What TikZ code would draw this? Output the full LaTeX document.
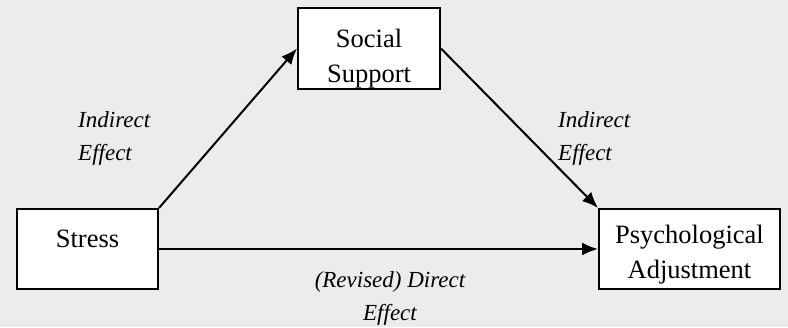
\documentclass[tikz,border=0pt]{standalone}
\usepackage{fontspec}
\setmainfont{Liberation Serif}
\usetikzlibrary{arrows.meta}
\definecolor{bgc}{RGB}{236,236,236}
\tikzset{
  box/.style={draw=black, line width=2pt, fill=white, inner sep=0pt},
  txt/.style={font=\fontsize{26.5}{35}\selectfont, inner sep=0pt},
  lbl/.style={font=\fontsize{23}{33}\selectfont\itshape, inner sep=0pt},
  arr/.style={line width=2pt, -{Latex[length=16pt,width=13pt]}}
}
\begin{document}
\begin{tikzpicture}[x=1pt,y=-1pt]
\fill[bgc] (0,0) rectangle (788,327);
\useasboundingbox (0,0) rectangle (788,327);
\node[box, minimum width=141pt, minimum height=80pt] (stress) at (87.5,249) {};
\node[txt, anchor=base] (stresst) at (87.5,247) {Stress};
\node[box, minimum width=142pt, minimum height=81pt] (support) at (369,48.5) {};
\node[txt, align=center, anchor=base] (supportt) at (369,82) {Social\\Support};
\node[box, minimum width=181pt, minimum height=80pt] (psych) at (689.5,249) {};
\node[txt, align=center, anchor=base] (psycht) at (689.5,278) {Psychological\\Adjustment};
\draw[arr] (stress.north east) -- (support.west);
\draw[arr] (support.east) -- (psych.north west);
\draw[arr] (stress.east) -- (psych.west);
\node[lbl, align=left, anchor=base west] (l1) at (78,160) {Indirect\\Effect};
\node[lbl, align=left, anchor=base west] (l2) at (558,160) {Indirect\\Effect};
\node[lbl, align=center, anchor=base] (l3) at (390,320) {(Revised) Direct\\Effect};
\end{tikzpicture}
\end{document}
